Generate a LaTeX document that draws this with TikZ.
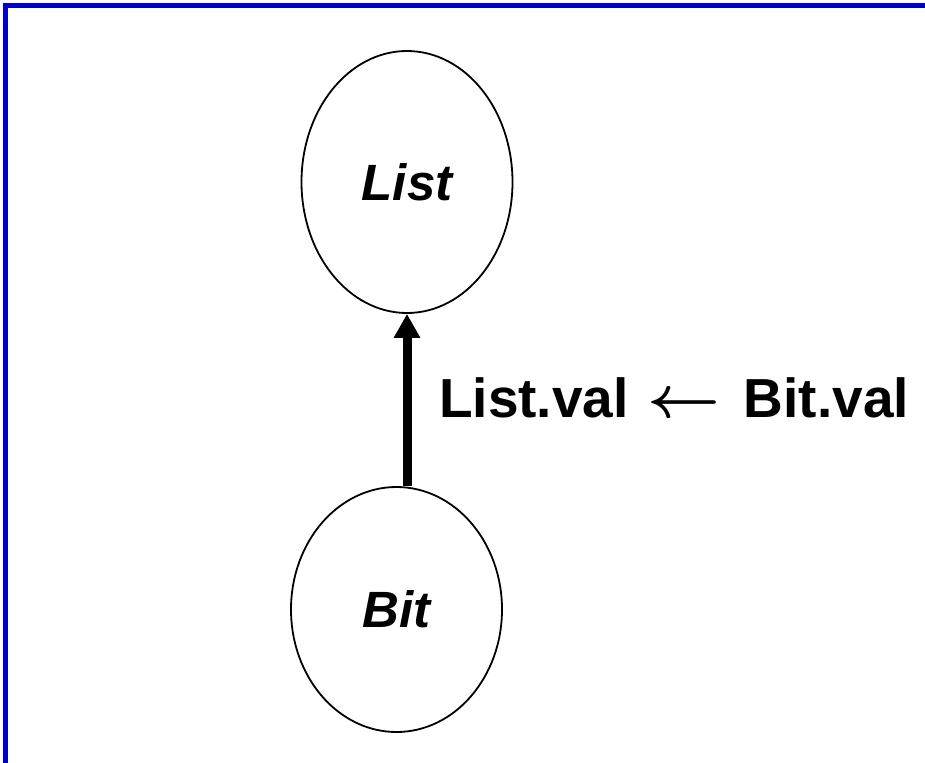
\documentclass[tikz,border=0pt]{standalone}
\usepackage{fontspec}
\setmainfont{Liberation Sans}
\usetikzlibrary{shapes.geometric,arrows.meta}
\definecolor{framebl}{RGB}{0,0,204}
\tikzset{
  classnode/.style={ellipse, draw=black, line width=1.8pt, inner sep=0pt,
    minimum width=211pt, font=\fontsize{51}{60}\selectfont\bfseries\itshape},
  flow/.style={line width=9pt, -{Triangle[length=24pt,width=25pt]}},
  rulelabel/.style={anchor=base west, inner sep=0pt,
    font=\fontsize{55}{66}\selectfont\bfseries},
  frameline/.style={draw=framebl, line width=4.7pt}
}
\begin{document}
\begin{tikzpicture}[x=1pt,y=-1pt]
  \useasboundingbox[fill=white] (0,0) rectangle (925,762);
  % frame along the left and top edges
  \draw[frameline] (5.2,770) -- (5.2,5.2) -- (935,5.2);

  % the two grammar symbols
  \node[classnode, minimum height=262pt] (list) at (407,182) {List};
  \node[classnode, minimum height=245pt] (bit) at (396.5,609.5) {Bit};

  % value flows from Bit up to List
  \draw[flow] (list.south |- bit.north) -- (list.south);

  % the semantic rule
  \node[rulelabel] (rule) at (439,417)
    {List.val\hspace{18.5pt}\scalebox{2.55}[2.4]{\boldmath$\leftarrow$}\hspace{23.7pt}Bit.val};
\end{tikzpicture}
\end{document}
